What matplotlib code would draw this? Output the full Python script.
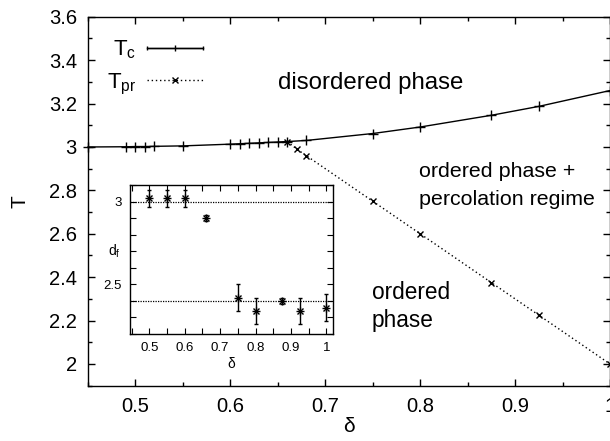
import numpy as np
import matplotlib
matplotlib.use("Agg")
import matplotlib.pyplot as plt
from matplotlib.ticker import MultipleLocator, FuncFormatter
from matplotlib.legend_handler import HandlerErrorbar

plt.rcParams['font.family'] = ['Liberation Sans', 'DejaVu Sans']
plt.rcParams['mathtext.fontset'] = 'custom'
plt.rcParams['mathtext.rm'] = 'Liberation Sans'
plt.rcParams['mathtext.it'] = 'Liberation Sans:italic'

# ---- data ----
tc_delta = [0.45, 0.49, 0.50, 0.51, 0.52, 0.55, 0.60, 0.61, 0.62, 0.63, 0.64, 0.65,
            0.66, 0.68, 0.75, 0.80, 0.875, 0.925, 1.0]
tc_T = [3.0, 3.001, 3.002, 3.002, 3.003, 3.005, 3.013, 3.015, 3.017, 3.019, 3.021, 3.023,
        3.025, 3.03, 3.062, 3.092, 3.146, 3.187, 3.26]

tpr_delta = [0.66, 0.67, 0.68, 0.75, 0.80, 0.875, 0.925, 1.0]
tpr_T = [3.025, 2.99, 2.96, 2.75, 2.60, 2.375, 2.225, 2.0]

df_delta = [0.50, 0.55, 0.60, 0.66, 0.75, 0.80, 0.875, 0.925, 1.0]
df_val = [3.02, 3.02, 3.02, 2.90, 2.42, 2.34, 2.40, 2.34, 2.36]
df_err = [0.05, 0.05, 0.05, 0.02, 0.08, 0.08, 0.02, 0.08, 0.08]
df_ref = [3.0, 2.4]

fmt_g = FuncFormatter(lambda v, p: '%g' % round(v, 6))

fig = plt.figure(figsize=(6.10, 4.41), dpi=100)
ax = fig.add_axes([0.1443, 0.1254, 0.8557, 0.8366])

ax.plot(tc_delta, tc_T, color='black', lw=1.0, marker='+', ms=7, mew=1.0, clip_on=False, zorder=3)
ax.plot(tpr_delta, tpr_T, color='black', lw=1.0, ls=(0, (1, 2)), marker='x', ms=5, mew=1.0,
        clip_on=False, zorder=3)

# legend proxies
h1 = ax.errorbar([np.nan], [np.nan], xerr=[1], color='black', lw=1.0, marker='|', ms=4,
                 capsize=1.6, elinewidth=1.0, capthick=1.0)
h2, = ax.plot([np.nan], [np.nan], color='black', lw=1.0, ls=(0, (1, 2)), marker='x', ms=5)
hl = 2.5
leg = ax.legend([h1, h2], [r'T$_{\rm c}$', r'T$_{\rm pr}$'], loc='upper left',
                bbox_to_anchor=(0.036, 0.94), frameon=False, markerfirst=False,
                fontsize=16, handlelength=hl, handletextpad=0.5, labelspacing=0.45,
                borderpad=0, borderaxespad=0,
                handler_map={h1: HandlerErrorbar(xerr_size=hl / 2)})

ax.set_xlim(0.45, 1.0)
ax.set_ylim(1.9, 3.6)
ax.xaxis.set_major_locator(MultipleLocator(0.1))
ax.xaxis.set_minor_locator(MultipleLocator(0.05))
ax.yaxis.set_major_locator(MultipleLocator(0.2))
ax.yaxis.set_minor_locator(MultipleLocator(0.1))
ax.xaxis.set_major_formatter(fmt_g)
ax.yaxis.set_major_formatter(fmt_g)
ax.tick_params(which='both', direction='in', top=True, right=True, labelsize=14.5)
ax.tick_params(which='major', length=5, width=1.0, pad=8)
ax.tick_params(which='minor', length=3, width=1.0)
for s in ax.spines.values():
    s.set_linewidth(1.0)

ax.set_xlabel('δ', fontsize=15, labelpad=1)
ax.set_ylabel('T', fontsize=15, labelpad=14)

ax.text(0.650, 3.265, 'disordered phase', fontsize=17.3, ha='left', va='baseline')
ax.text(0.799, 2.862, 'ordered phase +', fontsize=15.4, ha='left', va='baseline')
ax.text(0.799, 2.731, 'percolation regime', fontsize=15.4, ha='left', va='baseline')
ax.text(0.749, 2.300, 'ordered', fontsize=16.3, ha='left', va='baseline')
ax.text(0.749, 2.169, 'phase', fontsize=16.3, ha='left', va='baseline')

# ---- inset ----
ins = fig.add_axes([0.2131, 0.2426, 0.3333, 0.3379])
for r in df_ref:
    ins.axhline(r, color='black', lw=0.9, ls=(0, (1, 1)))
ins.errorbar(df_delta, df_val, yerr=df_err, fmt='none', ecolor='black', elinewidth=1.0,
             capsize=1.5, capthick=1.0)
ins.plot(df_delta, df_val, ls='none', marker='+', ms=6, mew=1.0, color='black')
ins.plot(df_delta, df_val, ls='none', marker='x', ms=4.5, mew=1.0, color='black')
ins.set_xlim(0.445, 1.02)
ins.set_ylim(2.2, 3.1)
ins.xaxis.set_major_locator(MultipleLocator(0.1))
ins.xaxis.set_minor_locator(MultipleLocator(0.05))
ins.yaxis.set_major_locator(MultipleLocator(0.5))
ins.yaxis.set_minor_locator(MultipleLocator(0.1))
ins.xaxis.set_major_formatter(fmt_g)
ins.yaxis.set_major_formatter(fmt_g)
ins.tick_params(which='both', direction='in', top=True, right=True, labelsize=9.5)
ins.tick_params(which='major', length=4, width=0.8, pad=6)
ins.tick_params(which='minor', length=4, width=0.8)
for s in ins.spines.values():
    s.set_linewidth(1.0)
ins.set_xlabel('δ', fontsize=10, labelpad=2)
ins.set_ylabel(r'd$_{\rm f}$', fontsize=10, rotation=0, labelpad=8)
ins.yaxis.set_label_coords(-0.075, 0.5)

fig.savefig('out.png', dpi=100)
